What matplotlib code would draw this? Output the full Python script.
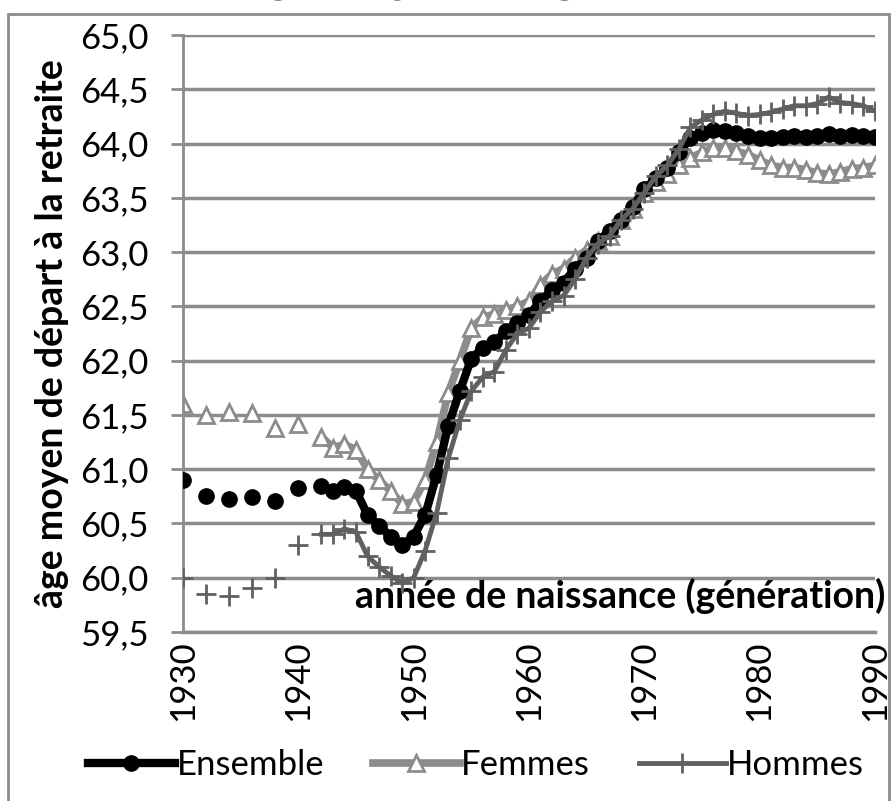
import matplotlib.pyplot as plt
import numpy as np
from matplotlib.patches import Rectangle

# years 1930-1990, NaN where no value (odd years before 1942)
years = np.arange(1930, 1991)
nan = np.nan

ensemble = [60.90, nan, 60.75, nan, 60.73, nan, 60.74, nan, 60.71, nan,
            60.83, nan, 60.85, 60.80, 60.84, 60.80, 60.58, 60.48, 60.38, 60.30,
            60.38, 60.58, 60.95, 61.40, 61.72, 62.02, 62.12, 62.17, 62.27, 62.35,
            62.42, 62.55, 62.65, 62.72, 62.85, 62.95, 63.10, 63.20, 63.30, 63.42,
            63.58, 63.68, 63.78, 63.92, 64.05, 64.10, 64.13, 64.12, 64.10, 64.07,
            64.05, 64.05, 64.06, 64.07, 64.06, 64.07, 64.09, 64.07, 64.08, 64.07,
            64.06]

femmes = [61.60, nan, 61.50, nan, 61.53, nan, 61.52, nan, 61.38, nan,
          61.42, nan, 61.30, 61.20, 61.23, 61.18, 61.00, 60.90, 60.80, 60.68,
          60.70, 60.90, 61.25, 61.70, 62.00, 62.30, 62.40, 62.43, 62.47, 62.50,
          62.55, 62.70, 62.80, 62.85, 62.95, 63.02, 63.10, 63.15, 63.30, 63.40,
          63.55, 63.65, 63.72, 63.80, 63.87, 63.92, 63.96, 63.96, 63.93, 63.90,
          63.85, 63.80, 63.78, 63.78, 63.76, 63.73, 63.72, 63.74, 63.77, 63.78,
          63.80]

hommes = [60.00, nan, 59.85, nan, 59.83, nan, 59.91, nan, 60.00, nan,
          60.30, nan, 60.40, 60.40, 60.45, 60.42, 60.20, 60.10, 60.02, 59.95,
          60.00, 60.25, 60.60, 61.10, 61.45, 61.72, 61.85, 61.90, 62.10, 62.25,
          62.30, 62.45, 62.55, 62.60, 62.75, 62.95, 63.08, 63.15, 63.30, 63.40,
          63.55, 63.70, 63.80, 63.95, 64.15, 64.22, 64.27, 64.30, 64.28, 64.26,
          64.27, 64.29, 64.32, 64.35, 64.35, 64.37, 64.43, 64.38, 64.37, 64.35,
          64.30]

plt.rcParams['font.family'] = ['Lato', 'DejaVu Sans']

fig = plt.figure(figsize=(8.95, 8.01), dpi=100)
ax = fig.add_axes([0.2045, 0.211, 0.773, 0.745])

ax.plot(years, ensemble, color='black', lw=6, marker='o', ms=11,
        label='Ensemble', zorder=3)
ax.plot(years, femmes, color='#8c8c8c', lw=5.5, marker='^', ms=12,
        mfc='white', mec='#8c8c8c', mew=2, label='Femmes', zorder=2)
ax.plot(years, hommes, color='#606060', lw=3.5, marker='+', ms=15,
        mew=2, label='Hommes', zorder=4)

ax.set_xlim(1930, 1990)
ax.set_ylim(59.5, 65.0)
yt = np.arange(59.5, 65.01, 0.5)
ax.set_yticks(yt)
ax.set_yticklabels([f'{v:.1f}'.replace('.', ',') for v in yt], fontsize=25)
ax.set_xticks(np.arange(1930, 1991, 10))
ax.set_xticklabels([str(y) for y in range(1930, 1991, 10)], rotation=90,
                   fontsize=25)

ax.grid(axis='y', color='#8c8c8c', lw=2.5)
ax.set_axisbelow(True)
for s in ['top', 'right']:
    ax.spines[s].set_visible(False)
ax.spines['left'].set_color('#8c8c8c')
ax.spines['left'].set_linewidth(2)
ax.spines['bottom'].set_color('#8c8c8c')
ax.spines['bottom'].set_linewidth(2.5)
ax.tick_params(axis='y', length=9, width=2, color='#8c8c8c', pad=16)
ax.tick_params(axis='x', length=0, pad=6)

ax.set_ylabel('âge moyen de départ à la retraite', fontsize=27,
              fontweight='bold', labelpad=8)
ax.text(1990.9, 59.83, 'année de naissance (génération)', fontsize=27,
        fontweight='bold', ha='right', va='center')

fig.legend(loc='lower center', bbox_to_anchor=(0.532, -0.014), ncol=3,
           frameon=False, fontsize=25, handlelength=2.5,
           columnspacing=1.4, handletextpad=0.05)

# chart frame
fig.patches.append(Rectangle((8 / 895, -0.05), 881 / 895, 1.05 - 14 / 801,
                             transform=fig.transFigure, fill=False,
                             ec='#8c8c8c', lw=2))
# title, cut off by the top edge
fig.text(0.57, 1.0095, 'Âge moyen par génération', fontsize=26,
         fontweight='bold', style='italic', family='DejaVu Serif',
         ha='center', va='baseline')

fig.savefig('out.png', dpi=100)
